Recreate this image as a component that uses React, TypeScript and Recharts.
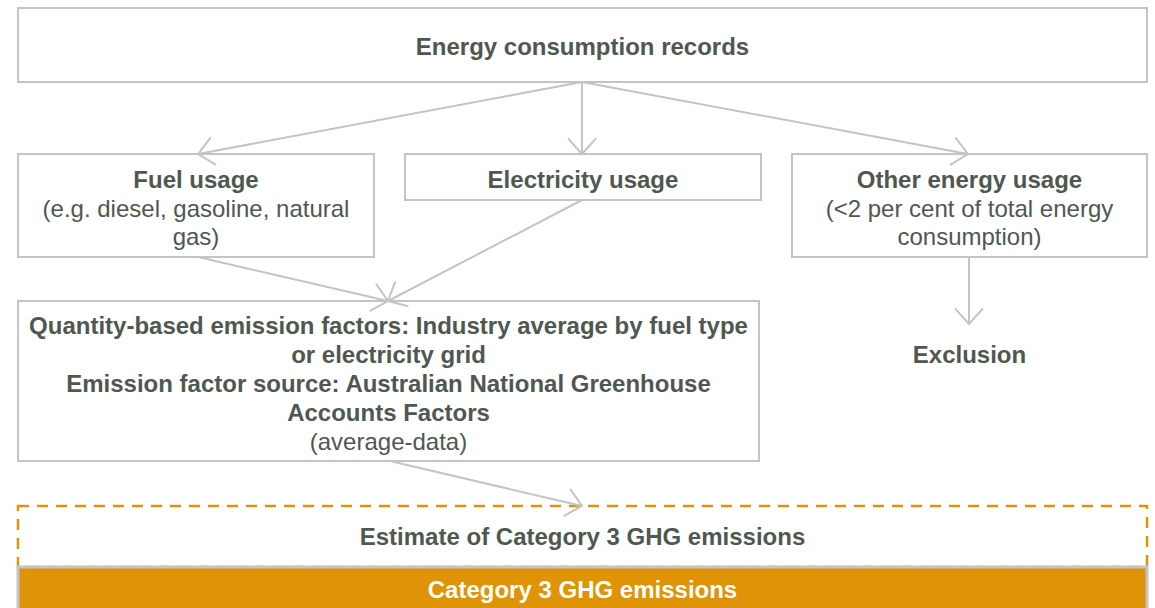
import React from 'react';
import { ComposedChart, XAxis, YAxis, ReferenceArea, ReferenceLine } from 'recharts';

// diagram text
const titleText = 'Energy consumption records';
const usageTitles = ['Fuel usage', 'Electricity usage', 'Other energy usage'];
const usageNotes = [
  ['(e.g. diesel, gasoline, natural', 'gas)'],
  [],
  ['(<2 per cent of total energy', 'consumption)'],
];
const factorLines = [
  'Quantity-based emission factors: Industry average by fuel type',
  'or electricity grid',
  'Emission factor source: Australian National Greenhouse',
  'Accounts Factors',
];
const factorNote = '(average-data)';
const exclusionLabel = 'Exclusion';
const estimateLabel = 'Estimate of Category 3 GHG emissions';
const resultLabel = 'Category 3 GHG emissions';

// layout (diagram units = pixels)
const W = 1155;
const H = 608;
const titleBox = { x1: 18, x2: 1147, y1: 8, y2: 82 };
const usageBoxes = [
  { x1: 18, x2: 374, y1: 154, y2: 257 },
  { x1: 405, x2: 761, y1: 154, y2: 200 },
  { x1: 792, x2: 1147, y1: 154, y2: 257 },
];
const factorBox = { x1: 18, x2: 759, y1: 301, y2: 461 };
const exclusionBox = { x1: 792, x2: 1147, y1: 335, y2: 373 };
const estimateBox = { x1: 18, x2: 1147, y1: 506, y2: 567 };
const resultBox = { x1: 18, x2: 1147, y1: 567, y2: 614 };

const arrows = [
  [{ x: 582, y: 82 }, { x: 198, y: 154 }],
  [{ x: 582, y: 82 }, { x: 582, y: 154 }],
  [{ x: 582, y: 82 }, { x: 968, y: 154 }],
  [{ x: 198, y: 257 }, { x: 388, y: 301 }],
  [{ x: 582, y: 200 }, { x: 388, y: 301 }],
  [{ x: 969, y: 257 }, { x: 969, y: 324 }],
  [{ x: 390, y: 461 }, { x: 582, y: 506 }],
];

const GREY = '#c4c4c4';
const TEXT = '#4e584f';
const ORANGE = '#df9307';
const FONT = '"Liberation Sans", Arial, sans-serif';
const LINE_H = 28.8;

type Line = { text: string; bold: boolean };

const boxLabel = (lines: Line[], color = TEXT, shift = 2) => (props: any) => {
  const vb = props.viewBox || {};
  const cx = vb.x + vb.width / 2;
  const cy = vb.y + vb.height / 2 + shift;
  const start = cy - ((lines.length - 1) * LINE_H) / 2;
  return (
    <g>
      {lines.map((l, i) => (
        <text
          key={i}
          x={cx}
          y={start + i * LINE_H}
          textAnchor="middle"
          dominantBaseline="central"
          fontFamily={FONT}
          fontSize={24}
          fontWeight={l.bold ? 'bold' : 'normal'}
          fill={color}
        >
          {l.text}
        </text>
      ))}
    </g>
  );
};

const Arrow = (props: any) => {
  const { x1, y1, x2, y2 } = props;
  const a = Math.atan2(y2 - y1, x2 - x1);
  const len = 21;
  const spread = (42 * Math.PI) / 180;
  const p1 = [x2 - len * Math.cos(a - spread), y2 - len * Math.sin(a - spread)];
  const p2 = [x2 - len * Math.cos(a + spread), y2 - len * Math.sin(a + spread)];
  return (
    <g stroke={GREY} strokeWidth={2} fill="none">
      <line x1={x1} y1={y1} x2={x2} y2={y2} />
      <polyline points={`${p1[0]},${p1[1]} ${x2},${y2} ${p2[0]},${p2[1]}`} />
    </g>
  );
};

export default function App() {
  return (
    <div style={{ position: 'absolute', left: 0, top: 0, background: '#fff' }}>
      <ComposedChart width={W} height={H} margin={{ top: 0, right: 0, bottom: 0, left: 0 }}>
        <XAxis type="number" dataKey="x" domain={[0, W]} allowDataOverflow hide />
        <YAxis type="number" dataKey="y" domain={[0, H]} allowDataOverflow reversed hide />

        <ReferenceArea
          {...titleBox}
          fill="none"
          fillOpacity={1}
          stroke={GREY}
          strokeWidth={2}
          label={boxLabel([{ text: titleText, bold: true }], TEXT, 1)}
        />
        {usageBoxes.map((b, i) => (
          <ReferenceArea
            key={`u${i}`}
            {...b}
            fill="none"
            fillOpacity={1}
            stroke={GREY}
            strokeWidth={2}
            label={boxLabel([
              { text: usageTitles[i], bold: true },
              ...usageNotes[i].map((t) => ({ text: t, bold: false })),
            ], TEXT, i === 1 ? 2 : 2.5)}
          />
        ))}
        <ReferenceArea
          {...factorBox}
          fill="none"
          fillOpacity={1}
          stroke={GREY}
          strokeWidth={2}
          label={boxLabel([
            ...factorLines.map((t) => ({ text: t, bold: true })),
            { text: factorNote, bold: false },
          ], TEXT, 2.5)}
        />
        <ReferenceArea
          {...exclusionBox}
          fill="none"
          fillOpacity={1}
          stroke="none"
          label={boxLabel([{ text: exclusionLabel, bold: true }], TEXT, 0)}
        />
        <ReferenceArea
          {...estimateBox}
          fill="none"
          fillOpacity={1}
          stroke={ORANGE}
          strokeWidth={2.5}
          strokeDasharray="11 8"
          label={boxLabel([{ text: estimateLabel, bold: true }], TEXT, 0)}
        />
        <ReferenceArea
          {...resultBox}
          ifOverflow="visible"
          fill={ORANGE}
          fillOpacity={1}
          stroke={GREY}
          strokeWidth={3}
          label={boxLabel([{ text: resultLabel, bold: true }], '#ffffff', -1)}
        />

        {arrows.map((seg, i) => (
          <ReferenceLine key={`a${i}`} segment={seg} ifOverflow="visible" shape={Arrow} />
        ))}
      </ComposedChart>
    </div>
  );
}
